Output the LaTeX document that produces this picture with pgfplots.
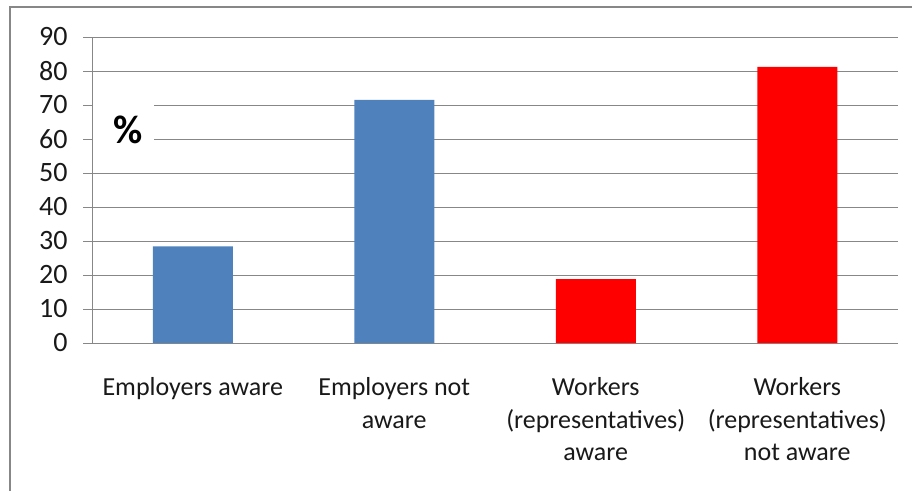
\documentclass[border=0pt]{standalone}
\usepackage{fontspec}
\setmainfont{Carlito}
\usepackage{pgfplots}
\pgfplotsset{compat=1.18}

\definecolor{barblue}{HTML}{4F81BD}
\definecolor{barred}{HTML}{FF0000}
\definecolor{axgray}{HTML}{878787}

\begin{document}
\begin{tikzpicture}[x=1pt,y=1pt]
\useasboundingbox (0,0) rectangle (912,491);
\draw[axgray, line width=1.8pt] (10,0) -- (10,484) -- (912,484);
\begin{axis}[
  at={(92pt,148pt)}, anchor=south west,
  scale only axis,
  width=806pt, height=306pt,
  xmin=0, xmax=4, ymin=0, ymax=90,
  axis x line*=bottom, axis y line*=left,
  axis line style={axgray, line width=1pt},
  ytick={0,10,...,90},
  ymajorgrids=true,
  grid style={axgray, line width=1pt},
  tick align=outside,
  major tick length=9pt,
  tick style={axgray, line width=1pt},
  xtick={0.5,1.5,2.5,3.5},
  xticklabels={Employers aware, Employers not\\aware, Workers\\(representatives)\\aware, Workers\\(representatives)\\not aware},
  x tick style={draw=none},
  minor xtick={0,1,2,3,4},
  minor x tick style={axgray, line width=1pt},
  minor tick length=10pt,
  xticklabel style={align=center, yshift=-22pt, font=\fontsize{26}{32.5}\selectfont, text=black!90},
  yticklabel style={font=\fontsize{28}{30}\selectfont, text=black!90, xshift=-12pt},
  /pgf/number format/assume math mode=true,
  ybar, bar width=80pt, bar shift=0pt,
]
\addplot[fill=barblue, draw=none] coordinates {(0.5,28.4) (1.5,71.5)};
\addplot[fill=barred, draw=none] coordinates {(2.5,18.8) (3.5,81.2)};
\fill[white] (axis cs:0.005,54) rectangle (axis cs:0.31,75);
\node[inner sep=0pt, font=\bfseries\fontsize{40}{44}\selectfont] at (axis cs:0.179,62.6) {\%};
\end{axis}
\end{tikzpicture}
\end{document}
